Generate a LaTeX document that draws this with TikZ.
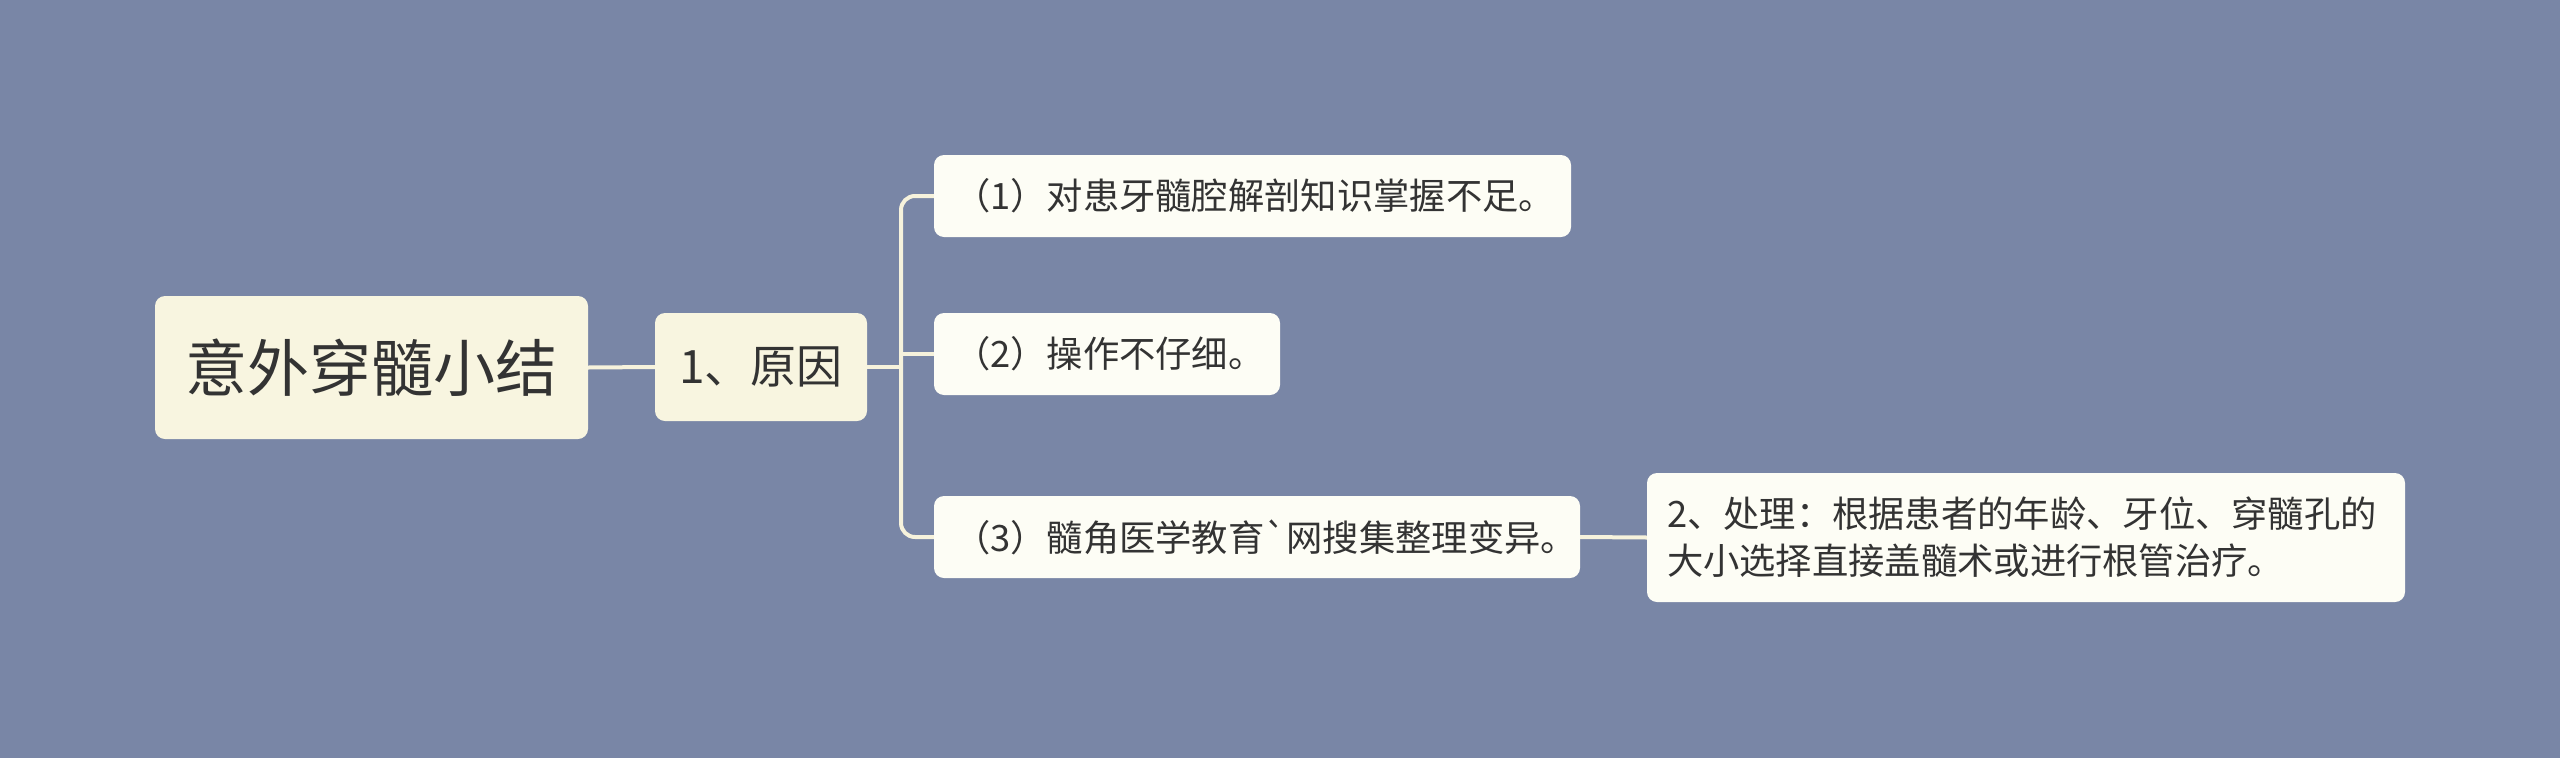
\documentclass[tikz,border=0pt]{standalone}
\usepackage{fontspec}
\setmainfont{Noto Sans CJK SC}
\newfontfamily\rawcjk{Noto Sans CJK SC}
\definecolor{bg}{HTML}{7986A6}
\definecolor{rootfill}{HTML}{F8F5E0}
\definecolor{leaffill}{HTML}{FDFDF5}
\definecolor{linec}{HTML}{F6F2DC}
\definecolor{txt}{HTML}{333333}
\begin{document}
\begin{tikzpicture}[x=1pt,y=-1pt,
  box/.style={rounded corners=10pt, draw=none, text=txt, inner sep=0pt, align=center},
  rootbox/.style={box, fill=rootfill, font=\fontsize{62}{70}\selectfont},
  midbox/.style={box, fill=rootfill, font=\fontsize{46}{54}\selectfont},
  leafbox/.style={box, fill=leaffill, font=\fontsize{36.3}{47}\selectfont, align=left, inner xsep=20pt},
  conn/.style={draw=linec, line width=4pt}]
\fill[bg] (0,0) rectangle (2560,758);
\useasboundingbox (0,0) rectangle (2560,758);
\node[rootbox, minimum width=433pt, minimum height=143pt] (root) at (371.5,367.5) {意外穿髓小结};
\node[midbox, minimum width=212pt, minimum height=108pt] (reason) at (761,367) {1、原因};
\node[leafbox, text width=597pt, minimum height=82pt] (c1) at (1252.5,196) {（1）对患牙髓腔解剖知识掌握不足。};
\node[leafbox, text width=306pt, minimum height=82pt] (c2) at (1107,354) {（2）操作不仔细。};
\node[leafbox, text width=606pt, minimum height=82pt] (c3) at (1257,537) {（3）髓角医学教育{\rawcjk `}网搜集整理变异。};
\node[leafbox, text width=718pt, minimum height=129pt] (d) at (2026,537.5) {2、处理：根据患者的年龄、牙位、穿髓孔的\\大小选择直接盖髓术或进行根管治疗。};
\coordinate (trunk) at (901,367);
\draw[conn] (root.east) -- (reason.west);
\draw[conn] (reason.east) -- (trunk);
\draw[conn, rounded corners=14pt] (trunk) |- (c1.west);
\draw[conn, rounded corners=14pt] (trunk) |- (c3.west);
\draw[conn] (trunk) |- (c2.west);
\draw[conn] (c3.east) -- (d.west);
\end{tikzpicture}
\end{document}
